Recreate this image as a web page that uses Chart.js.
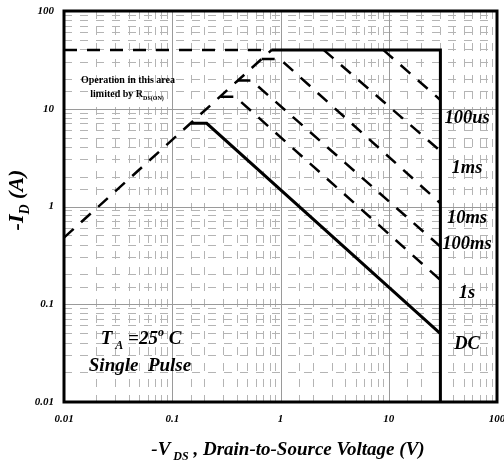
<!DOCTYPE html>
<html>
<head>
<meta charset="utf-8">
<script src="https://cdn.jsdelivr.net/npm/chart.js@4.4.1/dist/chart.umd.min.js"></script>
<style>
  html,body{margin:0;padding:0;background:#fff}
  #soa{display:block}
</style>
</head>
<body>
<canvas id="soa" width="504" height="465"></canvas>
<script>
// axis decades
const xTicks = [0.01, 0.1, 1, 10, 100];
const xLabels = ['0.01', '0.1', '1', '10', '100'];
const yTicks = [0.01, 0.1, 1, 10, 100];
const yLabels = ['0.01', '0.1', '1', '10', '100'];

// Rds(on) limit and current limit (dashed part)
const rdsV = [0.01, 0.83];
const rdsI = [0.48, 40];
const idmV = [0.01, 0.83];
const idmI = [40, 40];
// solid outer limit: 40 A, then VDS = 30 V
const limV = [0.83, 30, 30];
const limI = [40, 40, 0.01];
// pulse curves (V, I)
const us100V = [8.9, 30];
const us100I = [40, 12.3];
const ms1V = [2.5, 30];
const ms1I = [40, 3.7];
const ms10V = [0.67, 0.99, 30];
const ms10I = [32.2, 32.2, 1.08];
const ms100V = [0.40, 0.54, 30];
const ms100I = [19.4, 19.4, 0.389];
const s1V = [0.278, 0.381, 30];
const s1I = [13.3, 13.3, 0.177];
const dcV = [0.148, 0.208, 30];
const dcI = [7.1, 7.1, 0.05];

const pts = (xs, ys) => xs.map((x, i) => ({x, y: ys[i]}));
const isDecade = v => Math.abs(Math.log10(v) - Math.round(Math.log10(v))) < 1e-6;

function line(xs, ys, dashed){
  return {
    data: pts(xs, ys), showLine: true, pointRadius: 0,
    borderColor: '#000', borderWidth: dashed ? 2.5 : 3,
    borderDash: dashed ? [13, 10] : [], fill: false, tension: 0
  };
}

const tickFont = {family: 'Liberation Serif', size: 11, style: 'italic', weight: 'bold'};

// draws text with sub/superscript parts: [text, 'n'|'sub'|'sup']
function rich(ctx, parts, x, y, size, align, italic){
  const st = (italic ? 'italic ' : '') + 'bold ';
  let w = 0;
  parts.forEach(p => {
    ctx.font = st + (p[1] === 'n' ? size : Math.round(size * 0.62)) + 'px "Liberation Serif"';
    w += ctx.measureText(p[0]).width;
  });
  let cx = align === 'center' ? x - w / 2 : x;
  parts.forEach(p => {
    const s = p[1] === 'n' ? size : Math.round(size * 0.62);
    ctx.font = st + s + 'px "Liberation Serif"';
    let dy = 0;
    if(p[1] === 'sub') dy = size * 0.28;
    if(p[1] === 'sup') dy = -size * 0.42;
    ctx.fillText(p[0], cx, y + dy);
    cx += ctx.measureText(p[0]).width;
  });
}

const decor = {
  id: 'decor',
  beforeDatasetsDraw(chart){
    const {ctx, chartArea: a, scales: {x, y}} = chart;
    ctx.save();
    ctx.strokeStyle = '#9a9a9a';
    ctx.lineWidth = 1;
    xTicks.forEach(v => {
      const px = Math.round(x.getPixelForValue(v)) + 0.5;
      ctx.beginPath(); ctx.moveTo(px, a.top); ctx.lineTo(px, a.bottom); ctx.stroke();
    });
    yTicks.forEach(v => {
      const py = Math.round(y.getPixelForValue(v)) + 0.5;
      ctx.beginPath(); ctx.moveTo(a.left, py); ctx.lineTo(a.right, py); ctx.stroke();
    });
    ctx.restore();
  },
  afterDatasetsDraw(chart){
    const {ctx, chartArea: a} = chart;
    ctx.save();
    ctx.strokeStyle = '#000';
    ctx.lineWidth = 3;
    ctx.strokeRect(a.left, a.top, a.right - a.left, a.bottom - a.top);
    ctx.restore();
  },
  afterDraw(chart){
    const {ctx} = chart;
    ctx.save();
    ctx.fillStyle = '#000';
    ctx.textBaseline = 'alphabetic';
    ctx.textAlign = 'left';
    // region note
    rich(ctx, [['Operation in this area', 'n']], 128, 83, 10, 'center', false);
    rich(ctx, [['limited by R', 'n'], ['DS(ON)', 'sub']], 127, 97, 10, 'center', false);
    // conditions
    rich(ctx, [['T', 'n'], [' A', 'sub'], [' =25', 'n'], ['o', 'sup'], [' C', 'n']], 141, 344, 19, 'center', true);
    rich(ctx, [['Single  Pulse', 'n']], 140, 371, 19, 'center', true);
    // curve labels
    const lab = [['100us', 123], ['1ms', 173], ['10ms', 223], ['100ms', 249], ['1s', 298], ['DC', 349]];
    lab.forEach(l => rich(ctx, [[l[0], 'n']], 467, l[1], 18.5, 'center', true));
    // x title
    rich(ctx, [['-V', 'n'], [' DS', 'sub'], [' , Drain-to-Source Voltage (V)', 'n']], 288, 455, 19, 'center', true);
    // y title
    ctx.translate(23, 200);
    ctx.rotate(-Math.PI / 2);
    rich(ctx, [['-I', 'n'], ['D', 'sub'], [' (A)', 'n']], 0, 0, 22, 'center', true);
    ctx.restore();
  }
};

new Chart(document.getElementById('soa'), {
  type: 'scatter',
  data: {
    datasets: [
      line(rdsV, rdsI, true),
      line(idmV, idmI, true),
      line(limV, limI, false),
      line(us100V, us100I, true),
      line(ms1V, ms1I, true),
      line(ms10V, ms10I, true),
      line(ms100V, ms100I, true),
      line(s1V, s1I, true),
      line(dcV, dcI, false)
    ]
  },
  options: {
    responsive: false,
    animation: false,
    devicePixelRatio: 1,
    layout: {padding: {left: 0, right: 7, top: 11, bottom: 0}},
    plugins: {legend: {display: false}, tooltip: {enabled: false}},
    scales: {
      x: {
        type: 'logarithmic', min: 0.01, max: 100, position: 'bottom',
        afterFit: s => { s.height = 63; s.paddingLeft = 0; s.paddingRight = 0; },
        border: {display: false, dash: [8, 8]},
        grid: {color: c => (c.tick && !isDecade(c.tick.value)) ? '#b4b4b4' : 'rgba(0,0,0,0)', drawTicks: false, lineWidth: 1},
        ticks: {
          autoSkip: false, maxRotation: 0, padding: 11, color: '#000', font: tickFont,
          callback: v => { const i = xTicks.findIndex(t => Math.abs(t - v) / t < 1e-6); return i >= 0 ? xLabels[i] : ''; }
        }
      },
      y: {
        type: 'logarithmic', min: 0.01, max: 100,
        afterFit: s => { s.width = 64; s.paddingTop = 0; s.paddingBottom = 0; },
        border: {display: false, dash: [8, 8]},
        grid: {color: c => (c.tick && !isDecade(c.tick.value)) ? '#b4b4b4' : 'rgba(0,0,0,0)', drawTicks: false, lineWidth: 1},
        ticks: {
          autoSkip: false, padding: 10, color: '#000', font: tickFont,
          callback: v => { const i = yTicks.findIndex(t => Math.abs(t - v) / t < 1e-6); return i >= 0 ? yLabels[i] : ''; }
        }
      }
    }
  },
  plugins: [decor]
});
</script>
</body>
</html>
